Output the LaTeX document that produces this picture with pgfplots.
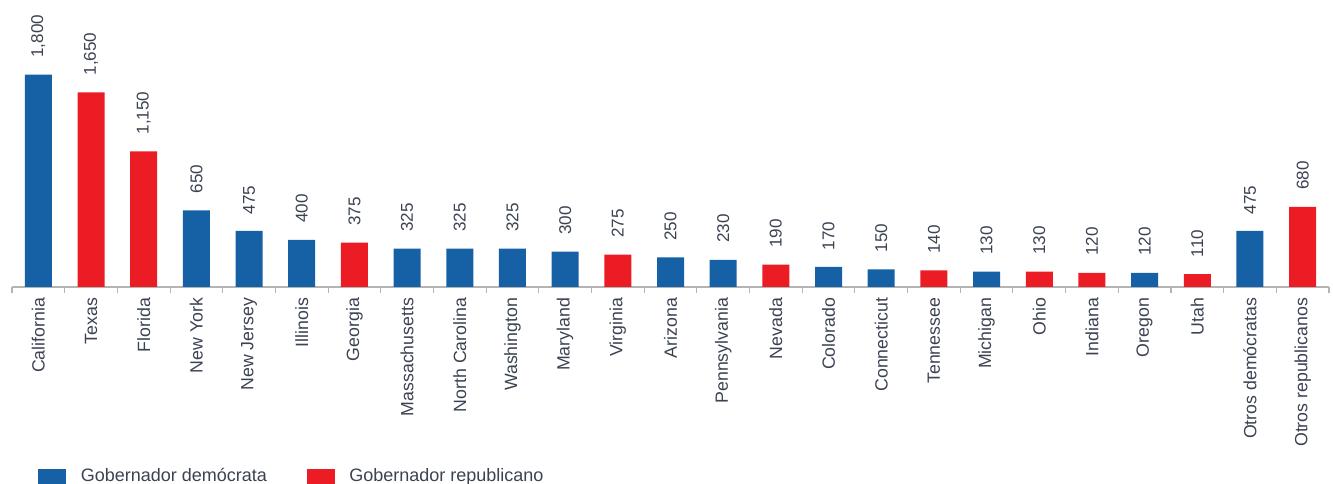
\documentclass[border=0pt]{standalone}
\usepackage{pgfplots}
\pgfplotsset{compat=1.18}
\usepackage{fontspec}
\setmainfont{Liberation Sans}
\definecolor{dem}{HTML}{1660A5}
\definecolor{rep}{HTML}{EC1C24}
\definecolor{txt}{HTML}{3B4252}
\definecolor{axc}{HTML}{B4B4B4}
\begin{document}
\begin{tikzpicture}
\useasboundingbox (-9pt,-147.75pt) rectangle (990.75pt,215.25pt);
\begin{axis}[
  at={(0,0)}, anchor=south west,
  scale only axis,
  width=987.75pt, height=215.25pt,
  xmin=-0.5, xmax=24.5,
  ymin=0, ymax=2432,
  clip=false,
  hide y axis,
  axis x line*=bottom,
  axis line style={draw=axc, line width=0.8pt},
  xtick={0,...,24},
  xticklabels={California,Texas,Florida,New York,New Jersey,Illinois,Georgia,Massachusetts,North Carolina,Washington,Maryland,Virginia,Arizona,Pennsylvania,Nevada,Colorado,Connecticut,Tennessee,Michigan,Ohio,Indiana,Oregon,Utah,Otros demócratas,Otros republicanos},
  minor xtick={-0.5,0.5,...,24.5},
  major tick length=0pt,
  minor tick length=4.5pt,
  tick align=outside,
  minor tick style={draw=axc, line width=0.8pt},
  xticklabel style={yshift=-8pt, rotate=90, anchor=east, inner sep=0pt, text=txt, font=\fontsize{13.3}{15}\selectfont},
  ybar, bar width=20.25pt,
  nodes near coords,
  every node near coord/.append style={yshift=12.5pt, rotate=90, anchor=west, inner sep=0pt, text=txt, font=\fontsize{12.8}{15}\selectfont},
  /pgf/number format/.cd, 1000 sep={,}, assume math mode=true, /pgfplots/.cd,
  legend columns=2,
  legend style={at={(axis description cs:0,0)}, anchor=north west, xshift=19.5pt, yshift=-134pt, draw=none, fill=none, inner sep=0pt, font=\fontsize{13.5}{15}\selectfont, text=txt,
    /tikz/every odd column/.append style={column sep=9pt},
    /tikz/every even column/.append style={column sep=27.75pt}},
  legend image code/.code={\fill[#1] (0pt,-5.6pt) rectangle (21pt,5.6pt);},
]
\addplot[fill=dem, draw=none, bar shift=0pt] coordinates {
(0,1800) (3,650) (4,475) (5,400) (7,325) (8,325) (9,325) (10,300) (12,250) (13,230) (15,170) (16,150) (18,130) (21,120) (23,475)};
\addlegendentry{Gobernador demócrata}
\addplot[fill=rep, draw=none, bar shift=0pt] coordinates {
(1,1650) (2,1150) (6,375) (11,275) (14,190) (17,140) (19,130) (20,120) (22,110) (24,680)};
\addlegendentry{Gobernador republicano}
\end{axis}
\end{tikzpicture}
\end{document}
